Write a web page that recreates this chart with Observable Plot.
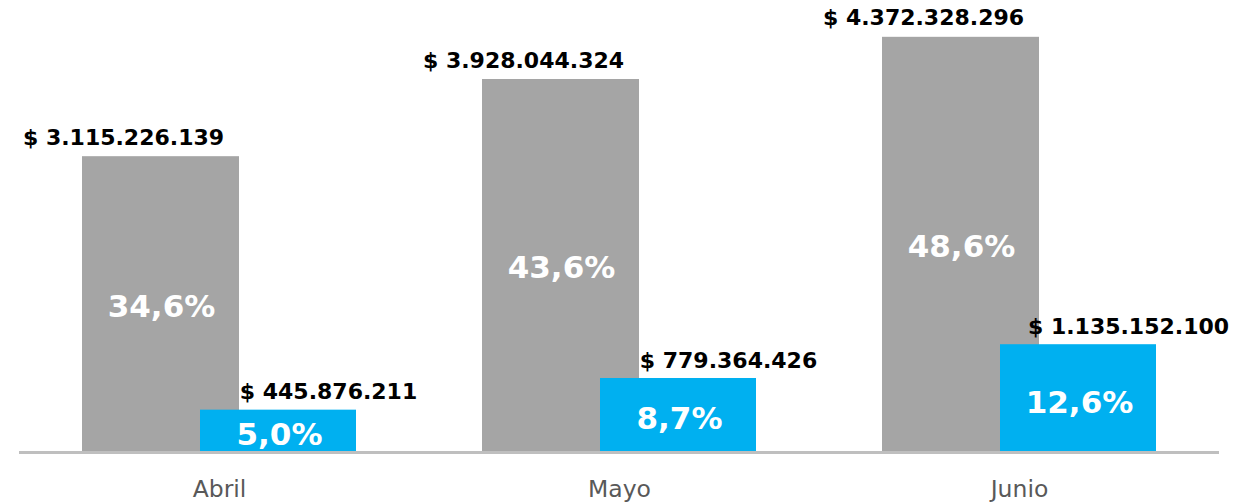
<!DOCTYPE html>
<html><head><meta charset="utf-8">
<script src="https://cdn.jsdelivr.net/npm/d3@7"></script>
<script src="https://cdn.jsdelivr.net/npm/@observablehq/plot@0.6"></script>
<style>body{margin:0;background:#fff;} #chart svg{display:block;}</style>
</head><body><div id="chart"></div>
<script>
const months = ["Abril", "Mayo", "Junio"];
const totalValues = [3115226139, 3928044324, 4372328296];
const totalPct = [34.6, 43.6, 48.6];
const partValues = [445876211, 779364426, 1135152100];
const partPct = [5.0, 8.7, 12.6];

const fmtMoney = v => "$ " + d3.format(",")(v).replace(/,/g, ".");
const fmtPct = v => d3.format(".1f")(v).replace(".", ",") + "%";

const gray = months.map((m, i) => ({month: m, value: totalValues[i], pct: totalPct[i]}));
const blue = months.map((m, i) => ({month: m, value: partValues[i], pct: partPct[i]}));

const chart = Plot.plot({
  width: 1246,
  height: 502,
  marginTop: 0,
  marginBottom: 50,
  marginLeft: 19,
  marginRight: 27,
  style: {background: "#fff"},
  x: {domain: months, padding: 0, label: null, axis: null},
  y: {domain: [0, 4.76e9], axis: null},
  marks: [
    Plot.barY(gray, {x: "month", y: "value", fill: "#a5a5a5", insetLeft: 63, insetRight: 180}),
    Plot.barY(blue, {x: "month", y: "value", fill: "#00b0f0", insetLeft: 181, insetRight: 63}),
    Plot.ruleY([0], {stroke: "#bfbfbf", strokeWidth: 3}),
    Plot.axisX({tickSize: 0, tickPadding: 28, fontSize: 23.5, fill: "#595959", fontFamily: "DejaVu Sans", label: null}),
    Plot.text(gray, {x: "month", y: "value", text: d => fmtMoney(d.value), dx: -96, dy: -19,
      fontSize: 22, fontWeight: "bold", fill: "#000", fontFamily: "DejaVu Sans"}),
    Plot.text(blue, {x: "month", y: "value", text: d => fmtMoney(d.value), dx: 109, dy: -18,
      fontSize: 22, fontWeight: "bold", fill: "#000", fontFamily: "DejaVu Sans"}),
    Plot.text(gray, {x: "month", y: d => d.value / 2, text: d => fmtPct(d.pct), dx: -58, dy: 2,
      fontSize: 31, fontWeight: "bold", fill: "#fff", fontFamily: "DejaVu Sans"}),
    Plot.text(blue, {x: "month", y: d => d.value / 2, text: d => fmtPct(d.pct), dx: 60, dy: 4,
      fontSize: 31, fontWeight: "bold", fill: "#fff", fontFamily: "DejaVu Sans"})
  ]
});
document.getElementById("chart").append(chart);
</script></body></html>
